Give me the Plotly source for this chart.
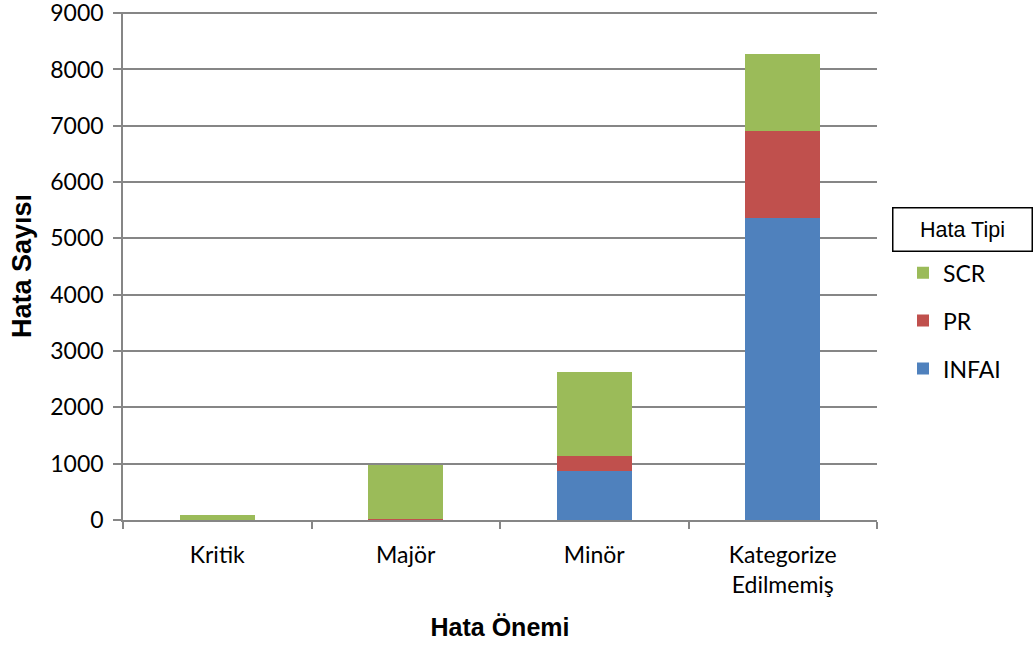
import plotly.graph_objects as go

categories = ["Kritik", "Majör", "Minör", "Kategorize<br>Edilmemiş"]
infai = [0, 0, 865, 5360]
pr = [0, 20, 280, 1555]
scr = [90, 960, 1480, 1362]
series_names = ["INFAI", "PR", "SCR"]
colors = ["#4F81BD", "#C0504D", "#9BBB59"]
y_ticks = [0, 1000, 2000, 3000, 4000, 5000, 6000, 7000, 8000, 9000]

fig = go.Figure()
for i, (name, vals) in enumerate(zip(series_names, [infai, pr, scr])):
    fig.add_trace(go.Bar(
        x=categories, y=vals, name=name,
        marker=dict(color=colors[i], line=dict(width=0)),
        legendgroup=name,
        legendrank=1000 - i,
    ))

tick_font = dict(family="Lato, 'Open Sans', sans-serif", size=23, color="#000000")

fig.update_layout(
    barmode="stack",
    bargap=0.6,
    width=1035, height=648,
    margin=dict(l=123, r=158, t=12, b=128, autoexpand=False),
    paper_bgcolor="white",
    plot_bgcolor="white",
    showlegend=True,
    legend=dict(
        x=1.0 + 12 / 754, xanchor="left", xref="paper",
        y=0.529, yanchor="top",
        traceorder="grouped",
        tracegroupgap=15,
        font=tick_font,
        bgcolor="rgba(0,0,0,0)",
        itemsizing="constant",
        indentation=14,
    ),
    xaxis=dict(
        automargin=False,
        showline=True, linecolor="#868686", linewidth=1.5,
        ticks="outside", tickson="boundaries", ticklen=7, tickcolor="#868686", tickwidth=1.5,
        tickfont=tick_font,
        ticklabelstandoff=14,
        showgrid=False,
        title=dict(text="<b>Hata Önemi</b>",
                   font=dict(family="Liberation Sans, Arial, sans-serif", size=25, color="#000000"),
                   standoff=21),
    ),
    yaxis=dict(
        automargin=False,
        range=[0, 9020],
        tickvals=y_ticks,
        showline=True, linecolor="#868686", linewidth=1.5,
        ticks="outside", ticklen=8, tickcolor="#868686", tickwidth=1.5,
        ticklabelstandoff=5,
        ticklabeloverflow="allow",
        showgrid=True, gridcolor="#868686", gridwidth=1.5,
        zeroline=False,
        tickfont=tick_font,
        title=dict(text="<b>Hata Sayısı</b>",
                   font=dict(family="Liberation Sans, Arial, sans-serif", size=27, color="#000000"),
                   standoff=11),
    ),
    annotations=[dict(
        text="Hata Tipi",
        xref="paper", yref="paper",
        x=(962 - 123) / (877 - 123), y=(520 - 229.5) / (520 - 12),
        xanchor="center", yanchor="middle",
        showarrow=False,
        font=dict(family="Liberation Sans, Arial, sans-serif", size=21.5, color="#000000"),
        bordercolor="#000000", borderwidth=1.5, borderpad=0,
        width=138, height=42,
        bgcolor="white",
    )],
)

fig.write_html("out.html")
